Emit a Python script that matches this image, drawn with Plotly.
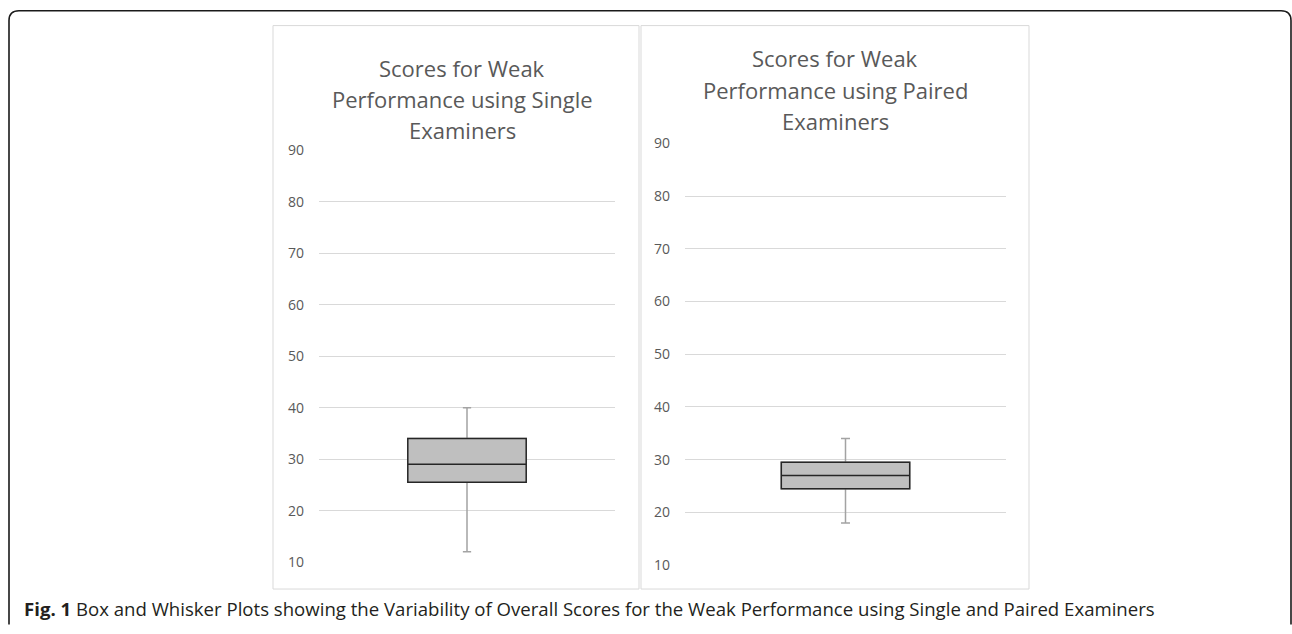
import plotly.graph_objects as go

W, H = 1292, 634
# the page is photographed with a small vertical offset/scale; these map
# reference pixel rows onto figure rows (measured on earlier renders)
Y_SCALE = 0.971
Y_OFF = 9.4

# ---- data ----
categories = ["Single Examiners", "Paired Examiners"]
lower_fence = [12, 18]
q1 = [25.5, 24.5]
median = [29, 27]
q3 = [34, 29.5]
upper_fence = [40, 34]
title_lines = [
    ["Scores for Weak", "Performance using Single", "Examiners"],
    ["Scores for Weak", "Performance using Paired", "Examiners"],
]
tick_values = [10, 20, 30, 40, 50, 60, 70, 80, 90]
caption_bold = "Fig. 1"
caption_text = ("Box and Whisker Plots showing the Variability of Overall Scores "
                "for the Weak Performance using Single and Paired Examiners")


def px(x):
    return x / W


def py(y):
    fy = (y - Y_OFF) / Y_SCALE
    fy = min(max(fy, 0.8), H - 0.5)
    return 1 - fy / H


GRID = "#d9d9d9"
TXT = "#595959"

fig = go.Figure()

# plot-area pixel geometry (left, right, y of top tick, y of bottom tick)
areas = [(319, 615, 150, 562), (685, 1006, 143, 565)]

for i, cat in enumerate(categories):
    xa = "x" if i == 0 else "x2"
    ya = "y" if i == 0 else "y2"
    # whiskers (grey)
    fig.add_trace(go.Box(
        x=[cat], q1=[q1[i]], median=[median[i]], q3=[q3[i]],
        lowerfence=[lower_fence[i]], upperfence=[upper_fence[i]],
        xaxis=xa, yaxis=ya, width=0.4, whiskerwidth=0.07,
        line=dict(color="#a3a3a3", width=1.5), fillcolor="rgba(0,0,0,0)",
        boxpoints=False, showlegend=False, hoverinfo="skip"))
    # box body (dark outline)
    fig.add_trace(go.Box(
        x=[cat], q1=[q1[i]], median=[median[i]], q3=[q3[i]],
        lowerfence=[q1[i]], upperfence=[q3[i]],
        xaxis=xa, yaxis=ya, width=0.4, whiskerwidth=0,
        line=dict(color="#262626", width=1.5), fillcolor="#bfbfbf",
        boxpoints=False, showlegend=False, hoverinfo="skip"))

axis_common_y = dict(range=[10, 90], tickvals=tick_values, showgrid=True,
                     gridcolor=GRID, gridwidth=1, zeroline=False, showline=False,
                     tickfont=dict(family="Open Sans", size=14, color=TXT),
                     ticks="", ticklabelstandoff=14)
axis_common_x = dict(showticklabels=False, showgrid=False, zeroline=False,
                     showline=False, ticks="", range=[-0.5, 0.5])

layout_axes = {}
for i, (l, r, t, b) in enumerate(areas):
    sx = "" if i == 0 else "2"
    layout_axes["xaxis" + sx] = dict(axis_common_x, domain=[px(l), px(r)],
                                     anchor="y" + sx)
    layout_axes["yaxis" + sx] = dict(axis_common_y, domain=[py(b), py(t)],
                                     anchor="x" + sx)

shapes = []
# panel borders
for (x0, x1) in [(273, 639), (641, 1029)]:
    shapes.append(dict(type="rect", xref="paper", yref="paper",
                       x0=px(x0), x1=px(x1), y0=py(589), y1=py(25),
                       line=dict(color=GRID, width=1), layer="below"))
# outer rounded frame (kept inside the canvas)
path = (f"M {px(9)},{py(700)} L {px(9)},{py(20)} "
        f"Q {px(9)},{py(8)} {px(19)},{py(8)} "
        f"L {px(1281)},{py(8)} Q {px(1291)},{py(8)} {px(1291)},{py(20)} "
        f"L {px(1291)},{py(700)}")
shapes.append(dict(type="path", xref="paper", yref="paper", path=path,
                   line=dict(color="#1a1a1a", width=1.6)))

annotations = []
title_pos = [(462, [67, 98, 130]), (835, [57, 89, 121])]
for (cx, ys), lines in zip(title_pos, title_lines):
    for yy, txt in zip(ys, lines):
        annotations.append(dict(xref="paper", yref="paper", x=px(cx), y=py(yy),
                                xanchor="center", yanchor="middle",
                                text=txt, showarrow=False,
                                font=dict(family="Open Sans", size=22, color=TXT)))

annotations.append(dict(xref="paper", yref="paper", x=px(22), y=py(608),
                        xanchor="left", yanchor="middle", showarrow=False,
                        text=f"<b>{caption_bold}</b> {caption_text}",
                        font=dict(family="Open Sans", size=18.6, color="#231f20")))

fig.update_layout(width=W, height=H, margin=dict(l=0, r=0, t=0, b=0),
                  paper_bgcolor="white", plot_bgcolor="white",
                  boxmode="overlay", shapes=shapes, annotations=annotations,
                  **layout_axes)

fig.write_html("out.html", config={"displayModeBar": False},
               post_script=(
                   "document.documentElement.style.margin='0';"
                   "document.body.style.margin='0';document.body.style.padding='0';"
                   "document.body.style.overflow='hidden';"))
